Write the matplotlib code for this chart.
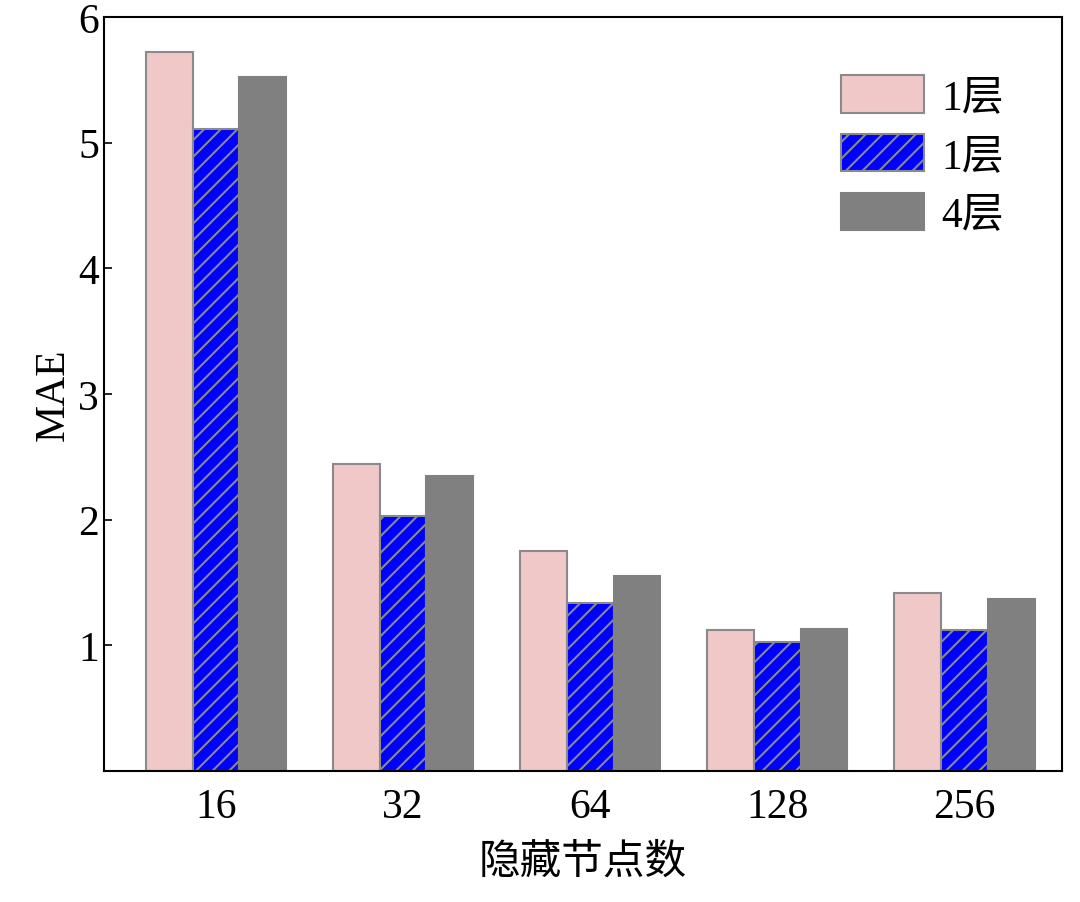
import numpy as np
import matplotlib.pyplot as plt

plt.rcParams['font.family'] = ['Liberation Serif', 'Noto Sans CJK SC']
plt.rcParams['hatch.color'] = '#8a8a9a'
plt.rcParams['hatch.linewidth'] = 1.5

nodes = ['16', '32', '64', '128', '256']
mae_a = [5.72, 2.44, 1.75, 1.12, 1.42]
mae_b = [5.11, 2.03, 1.34, 1.03, 1.12]
mae_c = [5.52, 2.35, 1.55, 1.13, 1.37]
labels = ['1层', '1层', '4层']

fig = plt.figure(figsize=(10.8, 9.03), dpi=100)
ax = fig.add_axes([0.096, 0.145, 0.887, 0.835])

x = np.arange(len(nodes))
w = 0.25
ax.bar(x - w, mae_a, w, color='#f0c8c8', edgecolor='#8a8a8a', linewidth=1.5, label=labels[0])
ax.bar(x, mae_b, w, color='#0000ff', edgecolor='#8a8a8a', linewidth=1.5, hatch='//', label=labels[1])
ax.bar(x + w, mae_c, w, color='#808080', edgecolor='#808080', linewidth=1.5, label=labels[2])

ax.set_xlim(-0.6, 4.52)
ax.set_ylim(0, 6)
ax.set_yticks([1, 2, 3, 4, 5, 6])
ax.set_xticks(x)
ax.set_xticklabels(nodes)
ax.tick_params(labelsize=30, direction='in', length=6, width=1.2)
ax.tick_params(axis='x', length=0, pad=12)
for s in ax.spines.values():
    s.set_linewidth(1.5)
ax.set_ylabel('MAE', fontsize=30)
ax.set_xlabel('隐藏节点数', fontsize=30, labelpad=12)
ax.legend(loc='upper right', fontsize=30, frameon=False, handlelength=2.0,
          handleheight=1.0, borderaxespad=1.0, labelspacing=0.4, handletextpad=0.4)

fig.savefig('out.png', dpi=100)
